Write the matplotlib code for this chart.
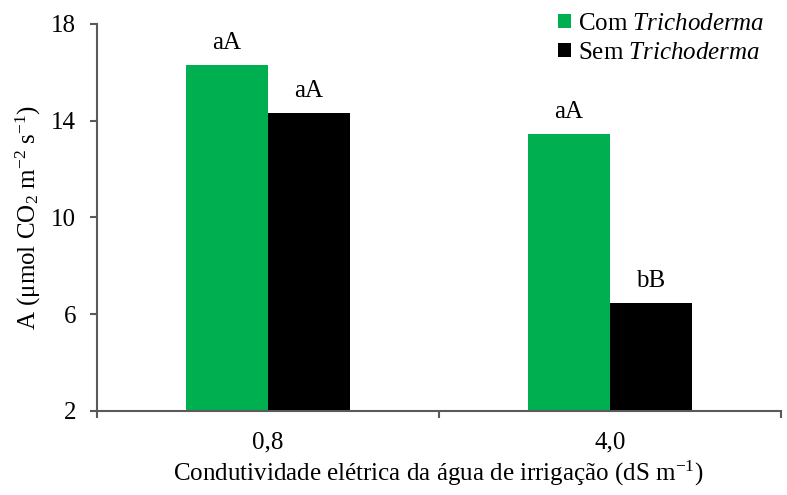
import matplotlib.pyplot as plt
import numpy as np

plt.rcParams['font.family'] = 'Liberation Serif'
plt.rcParams['mathtext.fontset'] = 'custom'
plt.rcParams['mathtext.rm'] = 'Liberation Serif'
plt.rcParams['mathtext.it'] = 'Liberation Serif:italic'
plt.rcParams['font.size'] = 18

# Data
categories = ['0,8', '4,0']
com_trich = [16.3, 13.45]
sem_trich = [14.3, 6.45]
com_letters = ['aA', 'aA']
sem_letters = ['aA', 'bB']

green = '#00B050'
axis_col = '#5a5a5a'

fig = plt.figure(figsize=(7.87, 4.95), dpi=100)
ax = fig.add_axes([0.123, 0.170, 0.869, 0.782])

x = np.arange(len(categories))
w = 0.24
b1 = ax.bar(x - w / 2, np.array(com_trich) - 2, w, bottom=2, color=green,
            label='Com $\\mathit{Trichoderma}$')
b2 = ax.bar(x + w / 2, np.array(sem_trich) - 2, w, bottom=2, color='black',
            label='Sem $\\mathit{Trichoderma}$')

for bars, vals, letters in [(b1, com_trich, com_letters), (b2, sem_trich, sem_letters)]:
    for bar, v, lab in zip(bars, vals, letters):
        ax.annotate(lab, (bar.get_x() + bar.get_width() / 2, v),
                    xytext=(0, 8), textcoords='offset points',
                    ha='center', va='bottom', fontsize=18)

ax.set_ylim(2, 18)
ax.set_yticks([2, 6, 10, 14, 18])
ax.set_xlim(-0.5, 1.5)
ax.set_xticks(x)
ax.set_xticklabels(categories)
ax.set_xticks([-0.5, 0.5, 1.5], minor=True)
ax.tick_params(axis='x', which='major', length=0, pad=15)
ax.tick_params(axis='x', which='minor', length=5, width=1.5, color=axis_col, direction='out')
ax.tick_params(axis='y', length=5, width=1.5, color=axis_col, pad=10)

for s in ['top', 'right']:
    ax.spines[s].set_visible(False)
for s in ['left', 'bottom']:
    ax.spines[s].set_color(axis_col)
    ax.spines[s].set_linewidth(1.5)

ax.set_ylabel('A (μmol CO$_2$ m$^{-2}$ s$^{-1}$)', fontsize=18, labelpad=6)
ax.set_xlabel('Condutividade elétrica da água de irrigação (dS m$^{-1}$)', fontsize=18, labelpad=4)

fig.legend(loc='upper right', bbox_to_anchor=(1.0, 1.02), frameon=False,
           handlelength=0.5, handleheight=0.5, handletextpad=0.3,
           labelspacing=0.3, fontsize=18)

fig.savefig('out.png', dpi=100)
